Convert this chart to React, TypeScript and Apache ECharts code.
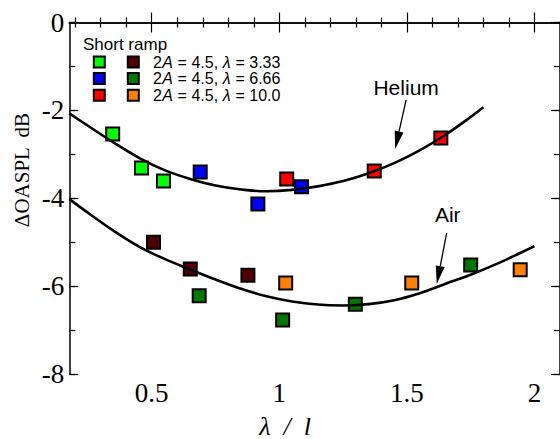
import React, { useEffect, useRef } from "react";
import * as echarts from "echarts";

// ---- data ----
const heLam333: number[][] = [[0.347, -2.54], [0.46, -3.31], [0.546, -3.61]];
const heLam666: number[][] = [[0.69, -3.4], [0.916, -4.13], [1.087, -3.74]];
const heLam10: number[][] = [[1.029, -3.56], [1.372, -3.38], [1.633, -2.63]];
const airLam333: number[][] = [[0.507, -5.0], [0.651, -5.61], [0.877, -5.75]];
const airLam666: number[][] = [[0.686, -6.22], [1.013, -6.77], [1.298, -6.41], [1.75, -5.52]];
const airLam10: number[][] = [[1.025, -5.93], [1.519, -5.93], [1.944, -5.63]];

const heliumFit: number[][] = [
  [0.177, -2.07], [0.25, -2.35], [0.35, -2.73], [0.45, -3.08], [0.55, -3.36],
  [0.65, -3.56], [0.75, -3.71], [0.85, -3.8], [0.95, -3.84], [1.05, -3.81],
  [1.15, -3.73], [1.25, -3.61], [1.35, -3.43], [1.45, -3.2], [1.55, -2.91],
  [1.65, -2.56], [1.75, -2.15], [1.8, -1.93],
];
const airFit: number[][] = [
  [0.177, -4.02], [0.25, -4.33], [0.35, -4.74], [0.45, -5.1], [0.55, -5.38],
  [0.65, -5.62], [0.75, -5.85], [0.85, -6.06], [0.95, -6.23], [1.05, -6.35],
  [1.15, -6.42], [1.25, -6.44], [1.35, -6.41], [1.45, -6.32], [1.55, -6.16],
  [1.65, -5.95], [1.75, -5.74], [1.85, -5.5], [1.95, -5.23], [2.0, -5.09],
];

const xMajorTicks = [0.5, 1, 1.5, 2];
const xMinorTicks = [0.2, 0.3, 0.4, 0.6, 0.7, 0.8, 0.9, 1.1, 1.2, 1.3, 1.4, 1.6, 1.7, 1.8, 1.9];
const xRange = [0.177, 2.1];
const yRange = [-8, 0];

const legendTitle = "Short ramp";
const legendRows = ["3.33", "6.66", "10.0"];

// annotations (data coordinates)
const heliumLabel = { text: "Helium", at: [1.497, -1.49] };
const heliumArrow = [[1.497, -1.76], [1.454, -2.88]];
const airLabel = { text: "Air", at: [1.66, -4.38] };
const airArrow = [[1.656, -4.79], [1.617, -5.95]];

const C = {
  lime: "#00ff00",
  blue: "#0000ff",
  red: "#ff0000",
  darkred: "#500000",
  darkgreen: "#007800",
  orange: "#ff8000",
};

const SERIF = "Liberation Serif";
const SANS = "Liberation Sans";
const LEGEND_FS = 16;

export default function App() {
  const ref = useRef<HTMLDivElement>(null);
  useEffect(() => {
    document.body.style.margin = "0";
    if (!ref.current) return;
    const chart = echarts.init(ref.current, undefined, { renderer: "svg" });

    const axisLine = { show: true, lineStyle: { color: "#000", width: 1.5 } };
    const tickStyle = { color: "#000", width: 1.2 };

    const xBase = (position: string, ticks: number[], len: number, showLine: boolean, showLabel: boolean) => ({
      type: "value",
      min: xRange[0],
      max: xRange[1],
      position,
      gridIndex: 0,
      axisLine: showLine ? axisLine : { show: false },
      axisTick: { show: true, inside: true, length: len, customValues: ticks, lineStyle: tickStyle },
      axisLabel: showLabel
        ? {
            show: true,
            customValues: ticks,
            fontFamily: SERIF,
            fontSize: 27,
            color: "#000",
            margin: 5,
            formatter: (v: number) => String(v),
          }
        : { show: false },
      splitLine: { show: false },
    });

    const yBase = (position: string, interval: number, len: number, showLine: boolean, showLabel: boolean) => ({
      type: "value",
      min: yRange[0],
      max: yRange[1],
      interval,
      position,
      gridIndex: 0,
      axisLine: showLine ? axisLine : { show: false },
      axisTick: { show: true, inside: true, length: len, lineStyle: tickStyle },
      axisLabel: showLabel
        ? { show: true, fontFamily: SERIF, fontSize: 27, color: "#000", margin: 5 }
        : { show: false },
      splitLine: { show: false },
    });

    const scatter = (name: string, data: number[][], color: string) => ({
      type: "scatter",
      name,
      data,
      symbol: "rect",
      symbolSize: 13,
      z: 2,
      itemStyle: { color, borderColor: "#000", borderWidth: 2, opacity: 1 },
    });

    const fitLine = (name: string, data: number[][]) => ({
      type: "line",
      name,
      data,
      smooth: 0.4,
      showSymbol: false,
      z: 3,
      lineStyle: { color: "#000", width: 2.6 },
    });

    chart.setOption({
      animation: false,
      backgroundColor: "#fff",
      grid: { left: 69.3, right: -3, top: 22.5, bottom: 65, containLabel: false },
      xAxis: [
        xBase("bottom", xMajorTicks, 10, true, true),
        xBase("bottom", xMinorTicks, 5, false, false),
        xBase("top", xMajorTicks, 10, true, false),
        xBase("top", xMinorTicks, 5, false, false),
      ],
      yAxis: [
        yBase("left", 2, 9, true, true),
        yBase("left", 1, 6, false, false),
        yBase("right", 2, 9, true, false),
        yBase("right", 1, 6, false, false),
      ],
      series: [
        scatter("He λ=3.33", heLam333, C.lime),
        scatter("He λ=6.66", heLam666, C.blue),
        scatter("He λ=10.0", heLam10, C.red),
        scatter("Air λ=3.33", airLam333, C.darkred),
        scatter("Air λ=6.66", airLam666, C.darkgreen),
        scatter("Air λ=10.0", airLam10, C.orange),
        fitLine("Helium fit", heliumFit),
        fitLine("Air fit", airFit),
      ],
    });

    const toPx = (pt: number[]) => chart.convertToPixel({ xAxisIndex: 0, yAxisIndex: 0 }, pt) as number[];

    const arrow = (id: string, seg: number[][]) => {
      const a = toPx(seg[0]);
      const b = toPx(seg[1]);
      const dx = b[0] - a[0];
      const dy = b[1] - a[1];
      const L = Math.hypot(dx, dy);
      const ux = dx / L;
      const uy = dy / L;
      const headLen = 18;
      const headW = 4.5;
      const bx = b[0] - ux * headLen;
      const by = b[1] - uy * headLen;
      return [
        {
          type: "line",
          id: id + "-shaft",
          shape: { x1: a[0], y1: a[1], x2: bx, y2: by },
          style: { stroke: "#000", lineWidth: 1.3 },
          z: 10,
        },
        {
          type: "polygon",
          id: id + "-head",
          shape: {
            points: [
              [b[0], b[1]],
              [bx - uy * headW, by + ux * headW],
              [bx + uy * headW, by - ux * headW],
            ],
          },
          style: { fill: "#000" },
          z: 10,
        },
      ];
    };

    const label = (id: string, l: { text: string; at: number[] }) => {
      const p = toPx(l.at);
      return {
        type: "text",
        id,
        x: p[0],
        y: p[1],
        z: 10,
        style: {
          text: l.text,
          fontFamily: SANS,
          fontSize: 21,
          fill: "#000",
          align: "center",
          verticalAlign: "middle",
        },
      };
    };

    const legendColors = [
      [C.lime, C.darkred],
      [C.blue, C.darkgreen],
      [C.red, C.orange],
    ];

    // measure text widths so the legend rows can be laid out as plain text pieces
    const cv = document.createElement("canvas");
    const ctx = cv.getContext("2d")!;
    const measure = (t: string, italic: boolean) => {
      ctx.font = `${italic ? "italic " : ""}${LEGEND_FS}px "${SANS}"`;
      return ctx.measureText(t).width;
    };

    const legendEls: any[] = [
      {
        type: "text",
        id: "lg-title",
        x: 83,
        y: 44,
        z: 10,
        style: {
          text: legendTitle,
          fontFamily: SANS,
          fontSize: 17,
          fill: "#000",
          verticalAlign: "middle",
        },
      },
    ];
    legendRows.forEach((val, i) => {
      const cy = 62 + i * 16.6;
      [99.3, 133.3].forEach((cx, j) => {
        legendEls.push({
          type: "rect",
          id: `lg-r${i}-${j}`,
          shape: { x: cx - 5.5, y: cy - 5.5, width: 11, height: 11 },
          style: { fill: legendColors[i][j], stroke: "#000", lineWidth: 2 },
          z: 10,
        });
      });
      const pieces: [string, boolean][] = [
        ["2", false],
        ["A", true],
        [" = 4.5, ", false],
        ["λ", true],
        [` = ${val}`, false],
      ];
      let x = 153;
      pieces.forEach(([t, it], k) => {
        legendEls.push({
          type: "text",
          id: `lg-t${i}-${k}`,
          x,
          y: cy,
          z: 10,
          style: {
            text: t,
            fontFamily: SANS,
            fontSize: LEGEND_FS,
            fontStyle: it ? "italic" : "normal",
            fill: "#000",
            verticalAlign: "middle",
          },
        });
        x += measure(t, it) + 0.3;
      });
    });

    chart.setOption({
      graphic: [
        ...legendEls,
        label("he-label", heliumLabel),
        ...arrow("he-arrow", heliumArrow),
        label("air-label", airLabel),
        ...arrow("air-arrow", airArrow),
        {
          type: "text",
          id: "y-title",
          x: 22,
          y: 170,
          rotation: Math.PI / 2,
          z: 10,
          style: {
            text: "ΔOASPL  dB",
            fontFamily: SERIF,
            fontSize: 21,
            fill: "#000",
            align: "center",
            verticalAlign: "middle",
          },
        },
        {
          type: "text",
          id: "x-title",
          x: 285,
          y: 426,
          z: 10,
          style: {
            text: "λ  /  l",
            fontFamily: SERIF,
            fontStyle: "italic",
            fontSize: 26,
            lineHeight: 20,
            fill: "#000",
            align: "center",
            verticalAlign: "middle",
          },
        },
      ],
    });

    return () => chart.dispose();
  }, []);
  return <div ref={ref} style={{ width: 560, height: 439 }} />;
}
